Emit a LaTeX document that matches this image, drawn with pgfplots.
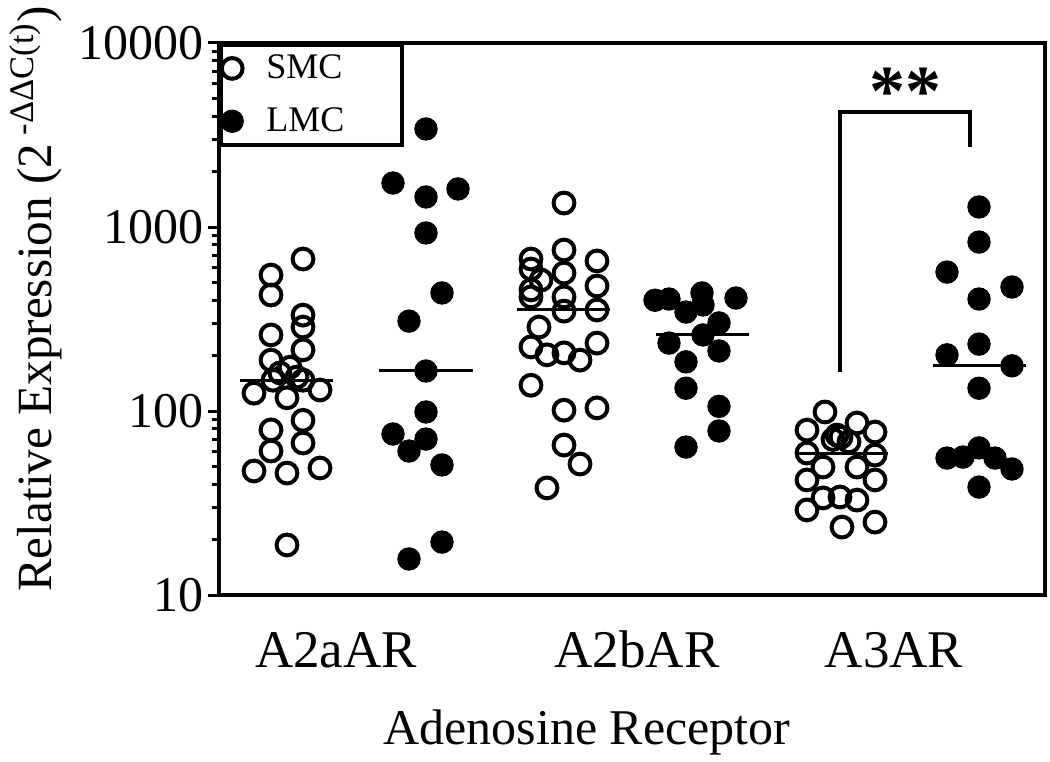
\documentclass[border=0pt]{standalone}
\usepackage{fontspec}
\setmainfont{Liberation Serif}
\usepackage{pgfplots}
\pgfplotsset{compat=1.18}
\begin{document}
\begin{tikzpicture}
\useasboundingbox (-109.5pt,-83pt) rectangle (415.5pt,297.5pt);
\begin{axis}[
 at={(0pt,0pt)}, anchor=south west,
 scale only axis, width=413pt, height=276pt,
 xmin=219, xmax=1045, ymode=log, ymin=10, ymax=10000,
 axis line style={line width=2pt},
 tick align=outside, ytick pos=left, xtick pos=bottom,
 every tick/.style={line width=1.5pt, black},
 major tick length=5.5pt, minor tick length=3.5pt,
 xtick={336,637,894}, xticklabels={A2aAR,A2bAR,A3AR},
 xtick style={draw=none},
 xticklabel style={font=\fontsize{26.5}{30}\selectfont, anchor=base, yshift=-31pt},
 ytick={10,100,1000,10000}, yticklabels={10,100,1000,10000},
 yticklabel style={font=\fontsize{25}{30}\selectfont, anchor=east, inner sep=0pt, xshift=-2pt},
 xlabel={Adenosine Receptor},
 xlabel style={font=\fontsize{25}{30}\selectfont, at={(axis description cs:0.4455,-0.2717)}, anchor=base, inner sep=0pt},
 ylabel={Relative Expression (2\textsuperscript{ -ΔΔC(t)})},
 ylabel style={font=\fontsize{24.6}{28}\selectfont, at={(axis description cs:-0.2542,0.005)}, anchor=north west, inner sep=0pt},
 legend style={at={(0,1)}, anchor=north west, draw=black, line width=2pt,
   font=\fontsize{18}{20}\selectfont, inner xsep=0pt, inner ysep=3pt, row sep=9pt,
   /tikz/every odd column/.append style={column sep=9.5pt}},
 legend cell align=left,
 legend image code/.code={\draw[#1] plot coordinates {(0.32cm,0cm)};},
 smc/.style={only marks, mark=o, mark size=5.2pt, line width=2pt, black},
 lmc/.style={only marks, mark=*, mark size=5.6pt, black, mark options={line width=0.5pt}},
]
% SMC
\addplot[smc] coordinates {
(303,670) (271,548) (271,427) (303,332) (303,286) (271,259) (303,215) (271,189)
(290,173) (280,161) (297,153) (273,147) (303,147) (254,125) (287,118) (320,130)
(303,89) (271,79) (303,67) (271,60.6) (254,47.2) (287,46) (320,49) (287,18.7)
(564,1350) (564,750) (531,670) (597,654) (531,591) (541,515) (564,562) (597,478)
(531,455) (531,417) (564,417) (564,349) (597,354) (539,286) (531,223) (597,234)
(547,202) (564,207) (580,189) (531,138) (564,101) (597,104) (564,65.3) (580,51.5) (547,38.2)
(825,98.8) (807,78.8) (857,86.1) (875,76.9) (833,70) (841,72) (849,68) (837,74)
(807,59.1) (875,57.6) (823,49.6) (857,49.6) (807,42.2) (875,42.2) (823,33.7) (840,34.1)
(857,32.8) (807,29.0) (842,23.4) (875,24.9)
};
\addlegendentry{\makebox[66pt][l]{SMC}}
% LMC
\addplot[lmc] coordinates {
(426,3410) (393,1734) (426,1456) (458,1610) (426,928) (442,438) (409,308) (426,165)
(426,98.8) (393,75) (426,70.4) (409,60.6) (442,50.9) (442,19.4) (409,15.7)
(655,400) (669,406) (702,438) (703,377) (686,345) (736,411) (719,301) (703,259) (669,234)
(719,212) (686,185) (686,133) (719,106) (719,77.9) (686,63.7)
(979,1285) (979,828) (947,569) (1012,472) (979,406) (979,231) (947,202) (1012,176)
(979,133) (947,55.5) (963,56.2) (979,63) (995,55.5) (1012,48.4) (979,38.6)
};
\addlegendentry{\makebox[66pt][l]{LMC}}
% means
\addplot[line width=1.5pt, forget plot] coordinates {(240,147) (333,147)};
\addplot[line width=1.5pt, forget plot] coordinates {(379,165) (473,165)};
\addplot[line width=1.5pt, forget plot] coordinates {(517,354) (610,354)};
\addplot[line width=1.5pt, forget plot] coordinates {(656,262) (749,262)};
\addplot[line width=1.5pt, forget plot] coordinates {(795,59) (888,59)};
\addplot[line width=1.5pt, forget plot] coordinates {(933,176) (1026,176)};
% bracket
\addplot[line width=2pt, forget plot] coordinates {(840,163) (840,4217) (970,4217) (970,2722)};
\node[font=\fontsize{36}{36}\selectfont\bfseries, inner sep=0pt] at (axis cs:905,5400) {**};
\end{axis}
\end{tikzpicture}
\end{document}
